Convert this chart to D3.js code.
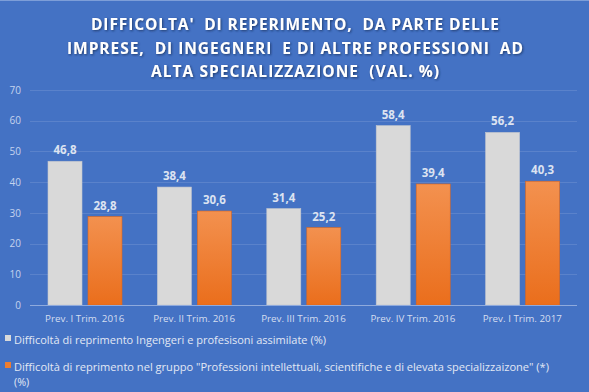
<!DOCTYPE html>
<html><head><meta charset="utf-8">
<script src="https://cdn.jsdelivr.net/npm/d3@7"></script>
<style>
html,body{margin:0;padding:0;background:#4472C4;}
svg{display:block;}
</style></head><body>
<svg id="chart" width="589" height="392"></svg>
<script>
const titleLines = ["DIFFICOLTA'  DI REPERIMENTO,  DA PARTE DELLE", "IMPRESE,  DI INGEGNERI  E DI ALTRE PROFESSIONI  AD", "ALTA SPECIALIZZAZIONE  (VAL. %)"];
const categories = ["Prev. I Trim. 2016", "Prev. II Trim. 2016", "Prev. III Trim. 2016", "Prev. IV Trim. 2016", "Prev. I Trim. 2017"];
const seriesNames = ["Difficoltà di reprimento Ingengeri e profesisoni assimilate (%)", "Difficoltà di reprimento nel gruppo \"Professioni intellettuali, scientifiche e di elevata specializzaizone\" (*)"];
const ingegneri = [46.8, 38.4, 31.4, 58.4, 56.2];
const professioni = [28.8, 30.6, 25.2, 39.4, 40.3];
const yTicks = [0, 10, 20, 30, 40, 50, 60, 70];

const svg = d3.select("#chart");
const W = 589, H = 392;
const defs = svg.append("defs");
const og = defs.append("linearGradient").attr("id","og").attr("x1",0).attr("x2",0).attr("y1",0).attr("y2",1);
og.append("stop").attr("offset","0%").attr("stop-color","#F3914F");
og.append("stop").attr("offset","100%").attr("stop-color","#EA6E1C");
const flt = defs.append("filter").attr("id","sh").attr("x","-10%").attr("y","-30%").attr("width","120%").attr("height","160%");
flt.append("feDropShadow").attr("dx",1).attr("dy",1).attr("stdDeviation",0.8).attr("flood-color","#1a2f5c").attr("flood-opacity",0.8);

svg.append("rect").attr("width",W).attr("height",H).attr("fill","#4472C4");
svg.append("line").attr("x1",0).attr("x2",W).attr("y1",0.5).attr("y2",0.5).attr("stroke","#7d9ed8").attr("stroke-width",1);

// title
const titleW = [408, 456, 288];
const titleY = [30, 54, 77];
svg.append("g").attr("filter","url(#sh)").selectAll("text").data(titleLines).join("text")
  .attr("x", 295).attr("y", (d,i)=>titleY[i]).attr("text-anchor","middle")
  .attr("font-family","'Open Sans', sans-serif").attr("font-weight","bold").attr("font-size",15.5)
  .attr("fill","#ffffff").attr("textLength",(d,i)=>titleW[i]).attr("lengthAdjust","spacing")
  .attr("xml:space","preserve").style("white-space","pre").text(d=>d);

const x0 = d3.scaleBand().domain(categories).range([30, 577]).paddingInner(0).paddingOuter(0);
const x1 = d3.scaleBand().domain([0,1]).range([18, 92]).paddingInner(0.15).paddingOuter(0);
const y = d3.scaleLinear().domain([0,70]).range([305, 90]);

// gridlines
svg.append("g").selectAll("line").data(yTicks.filter(t=>t>0)).join("line")
  .attr("x1",30).attr("x2",577).attr("y1",d=>Math.round(y(d))+0.5).attr("y2",d=>Math.round(y(d))+0.5)
  .attr("stroke","#5A82CB").attr("stroke-width",1);

// y axis labels
const yAxis = d3.axisLeft(y).tickValues(yTicks).tickSize(0).tickPadding(0).tickFormat(d3.format("d"));
const gy = svg.append("g").attr("transform","translate(21,0)").call(yAxis);
gy.select(".domain").remove();
gy.selectAll("text").attr("font-family","'Open Sans', sans-serif").attr("font-size",10).attr("fill","#C5D3EE");

// bars
const groups = svg.append("g").selectAll("g").data(categories).join("g")
  .attr("transform", d=>`translate(${x0(d)},0)`);
const data = categories.map((c,i)=>[ingegneri[i], professioni[i]]);
groups.selectAll("rect").data((d,i)=>data[i].map((v,j)=>({v,j}))).join("rect")
  .attr("x", d=>x1(d.j)).attr("width", x1.bandwidth())
  .attr("y", d=>y(d.v)).attr("height", d=>y(0)-y(d.v))
  .attr("fill", d=>d.j===0 ? "#D9D9D9" : "url(#og)")
  .attr("stroke", d=>d.j===0 ? "#C2C6CE" : "#D9651F").attr("stroke-width",0.6);
groups.selectAll("text.val").data((d,i)=>data[i].map((v,j)=>({v,j}))).join("text")
  .attr("class","val")
  .attr("x", d=>x1(d.j)+x1.bandwidth()/2).attr("y", d=>y(d.v)-7)
  .attr("text-anchor","middle").attr("font-family","'Open Sans', sans-serif")
  .attr("font-weight","bold").attr("font-size",11.5).attr("fill","#DCE3F1")
  .text(d=>d3.format(".1f")(d.v).replace(".",","));

// x axis
svg.append("line").attr("x1",30).attr("x2",577).attr("y1",305.5).attr("y2",305.5).attr("stroke","#8FAADD").attr("stroke-width",1);
const xAxis = d3.axisBottom(x0).tickSize(0).tickPadding(0);
const gx = svg.append("g").attr("transform","translate(0,315)").call(xAxis);
gx.select(".domain").remove();
gx.selectAll("text").attr("font-family","'Open Sans', sans-serif").attr("font-size",9.8).attr("fill","#D5DEF0").attr("dy","0.71em");

// legend
const lg = svg.append("g");
lg.append("rect").attr("x",5).attr("y",335).attr("width",6).attr("height",6).attr("fill","#D9D9D9");
lg.append("text").attr("x",14).attr("y",343.5).attr("font-family","'Open Sans', sans-serif").attr("font-size",10.8).attr("fill","#E2E8F4")
  .attr("textLength",312).attr("lengthAdjust","spacingAndGlyphs").text(seriesNames[0]);
lg.append("rect").attr("x",5).attr("y",362).attr("width",6).attr("height",6).attr("fill","#ED7D31");
lg.append("text").attr("x",14).attr("y",370.5).attr("font-family","'Open Sans', sans-serif").attr("font-size",10.8).attr("fill","#E2E8F4")
  .attr("textLength",535).attr("lengthAdjust","spacingAndGlyphs").text(seriesNames[1]);
lg.append("text").attr("x",14).attr("y",386).attr("font-family","'Open Sans', sans-serif").attr("font-size",10.8).attr("fill","#E2E8F4").text("(%)");
</script>
</body></html>
